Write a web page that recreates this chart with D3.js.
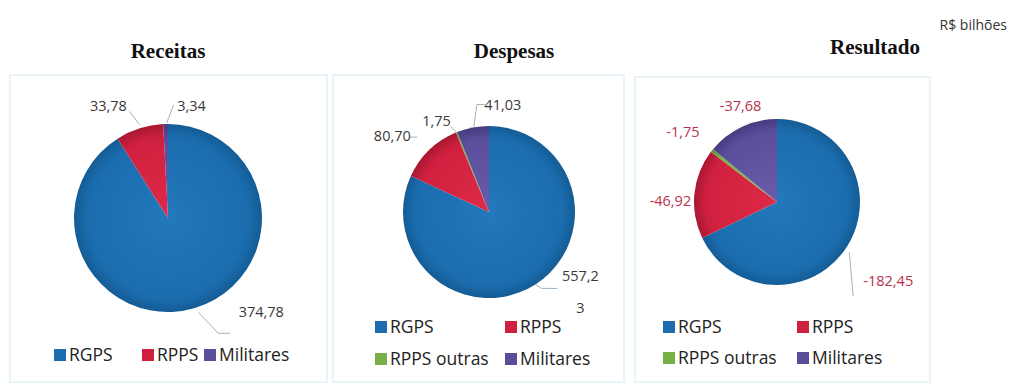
<!DOCTYPE html>
<html lang="pt-BR">
<head>
<meta charset="utf-8">
<script src="https://cdn.jsdelivr.net/npm/d3@7"></script>
<style>
  html, body { margin: 0; padding: 0; background: #ffffff; }
  svg { display: block; }
</style>
</head>
<body>
<svg id="chart" width="1013" height="387"></svg>
<script>
// Categorias e valores (R$ bilhões)
const categoriasReceitas = ["RGPS", "RPPS", "Militares"];
const valoresReceitas = [374.78, 33.78, 3.34];
const rotulosReceitas = ["374,78", "33,78", "3,34"];

const categoriasDespesas = ["RGPS", "RPPS", "RPPS outras", "Militares"];
const valoresDespesas = [557.23, 80.70, 1.75, 41.03];
const rotulosDespesas = ["557,2\n3", "80,70", "1,75", "41,03"];

const categoriasResultado = ["RGPS", "RPPS", "RPPS outras", "Militares"];
const valoresResultado = [-182.45, -46.92, -1.75, -37.68];
const rotulosResultado = ["-182,45", "-46,92", "-1,75", "-37,68"];

const cores = {
  "RGPS": ["#2379bb", "#1b6daf", "#145c95"],
  "RPPS": ["#de2a48", "#cf213f", "#aa1831"],
  "RPPS outras": ["#88c257", "#76b047", "#5d9136"],
  "Militares": ["#6a5cab", "#5a4e9b", "#463c7e"]
};

const svg = d3.select("#chart");
const defs = svg.append("defs");

// Unidade
svg.append("text")
  .attr("x", 1007).attr("y", 30)
  .attr("text-anchor", "end")
  .attr("font-family", "'Open Sans', sans-serif")
  .attr("font-size", 14).attr("fill", "#333")
  .text("R$ bilhões");

// Molduras dos painéis
const paineis = [
  { x: 10, y: 75, w: 317, h: 307 },
  { x: 333, y: 75, w: 291, h: 307 },
  { x: 635, y: 77, w: 295, h: 305 }
];
paineis.forEach(p => {
  svg.append("rect")
    .attr("x", p.x).attr("y", p.y).attr("width", p.w).attr("height", p.h)
    .attr("fill", "#ffffff").attr("stroke", "#e8f4f7").attr("stroke-width", 2);
});

// Layout de cada gráfico: centro, raio, título, deslocamentos dos rótulos e legenda
const graficos = [
  {
    id: "rec", titulo: "Receitas", tx: 168, ty: 58,
    cx: 168, cy: 218, r: 94,
    categorias: categoriasReceitas, valores: valoresReceitas, rotulos: rotulosReceitas,
    corTexto: "#3a3a3a",
    rotuloPos: [
      { dx: 67, dy: 9, linha: [[4, 4], [24, 25], [36, 25]] },
      { dx: -31, dy: -17, linha: [[0, -4], [-10, -17]] },
      { dx: 26, dy: -13, linha: [[1, -1], [8, -19]] }
    ],
    legenda: { y: 355, itens: [[54, 0], [142, 0], [204, 0]] }
  },
  {
    id: "desp", titulo: "Despesas", tx: 514, ty: 58,
    cx: 489, cy: 212, r: 86,
    categorias: categoriasDespesas, valores: valoresDespesas, rotulos: rotulosDespesas,
    corTexto: "#3a3a3a",
    rotuloPos: [
      { dx: 45, dy: -3, linha: [[0, 0], [6, 4], [22, 4]] },
      { dx: -37, dy: -9, linha: [[-12, -13], [-19, -13]] },
      { dx: -20, dy: -6, linha: [[0, 0], [-6, -6]] },
      { dx: 30, dy: -18, linha: [[1, 0], [4, -23], [12, -23]] }
    ],
    legenda: { y: 327, itens: [[375, 0], [505, 0], [375, 32], [505, 32]] }
  },
  {
    id: "res", titulo: "Resultado", tx: 875, ty: 54,
    cx: 777, cy: 202, r: 83,
    categorias: categoriasResultado, valores: valoresResultado, rotulos: rotulosResultado,
    corTexto: "#b8324c",
    rotuloPos: [
      { dx: 41, dy: 40, linha: [[2, 6], [6, 50]] },
      { dx: -24, dy: 12 , linha: null },
      { dx: -29, dy: -14, linha: null },
      { dx: -1, dy: -16, linha: null }
    ],
    legenda: { y: 327, itens: [[663, 0], [797, 0], [663, 31], [797, 31]] }
  }
];

const fonteRotulo = "'Open Sans', sans-serif";

graficos.forEach(g => {
  // Título
  svg.append("text")
    .attr("x", g.tx).attr("y", g.ty)
    .attr("text-anchor", "middle")
    .attr("font-family", "'Liberation Serif', 'Times New Roman', serif")
    .attr("font-weight", "bold").attr("font-size", 21).attr("fill", "#111")
    .text(g.titulo);

  const dados = g.categorias.map((c, i) => ({ categoria: c, valor: g.valores[i], rotulo: g.rotulos[i], pos: g.rotuloPos[i] }));

  const pie = d3.pie().sort(null).value(d => Math.abs(d.valor));
  const arc = d3.arc().innerRadius(0).outerRadius(g.r);
  const arcos = pie(dados);

  const grupo = svg.append("g").attr("transform", `translate(${g.cx},${g.cy})`);

  // Gradientes radiais por categoria
  g.categorias.forEach((c, i) => {
    const grad = defs.append("radialGradient")
      .attr("id", `grad-${g.id}-${i}`)
      .attr("gradientUnits", "userSpaceOnUse")
      .attr("cx", 0).attr("cy", 0).attr("r", g.r);
    grad.append("stop").attr("offset", "0%").attr("stop-color", cores[c][0]);
    grad.append("stop").attr("offset", "85%").attr("stop-color", cores[c][1]);
    grad.append("stop").attr("offset", "100%").attr("stop-color", cores[c][2]);
  });

  grupo.selectAll("path.fatia")
    .data(arcos)
    .join("path")
    .attr("class", "fatia")
    .attr("d", arc)
    .attr("fill", (d, i) => `url(#grad-${g.id}-${i})`)
    .attr("stroke", "none");

  // Rótulos e linhas de chamada
  arcos.forEach(a => {
    const meio = (a.startAngle + a.endAngle) / 2;
    const px = g.r * Math.sin(meio);
    const py = -g.r * Math.cos(meio);
    const p = a.data.pos;
    if (p.linha) {
      const pts = p.linha.map(([dx, dy]) => [px + dx, py + dy]);
      grupo.append("polyline")
        .attr("points", pts.map(q => q.join(",")).join(" "))
        .attr("fill", "none").attr("stroke", "#9fb4c4").attr("stroke-width", 1);
    }
    const linhas = a.data.rotulo.split("\n");
    const t = grupo.append("text")
      .attr("x", px + p.dx).attr("y", py + p.dy)
      .attr("text-anchor", "middle")
      .attr("font-family", fonteRotulo).attr("font-size", 14.5)
      .attr("fill", g.corTexto);
    linhas.forEach((l, k) => {
      t.append("tspan").attr("x", px + p.dx).attr("dy", k === 0 ? 0 : 32).text(l);
    });
  });

  // Legenda
  const leg = svg.append("g");
  g.categorias.forEach((c, i) => {
    const [lx, ly] = g.legenda.itens[i];
    const y = g.legenda.y + ly;
    leg.append("rect")
      .attr("x", lx).attr("y", y - 6).attr("width", 12).attr("height", 12)
      .attr("fill", cores[c][1]);
    leg.append("text")
      .attr("x", lx + 15).attr("y", y + 6)
      .attr("font-family", fonteRotulo).attr("font-size", 17.5)
      .attr("fill", "#222")
      .text(c);
  });
});
</script>
</body>
</html>
